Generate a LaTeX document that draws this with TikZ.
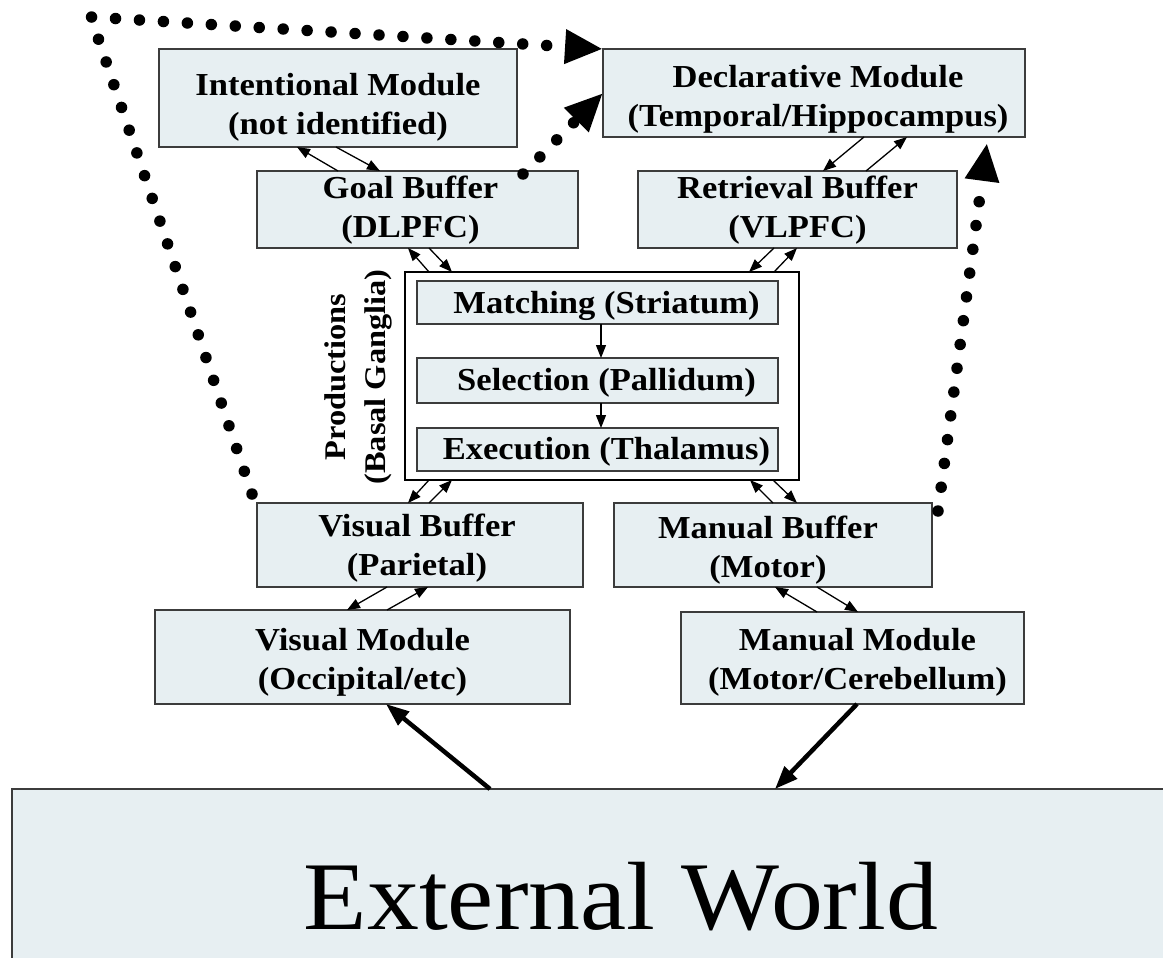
\documentclass[tikz,border=0pt]{standalone}
\usepackage{fontspec}
\setmainfont{Liberation Serif}[FakeStretch=1.08]
\newfontfamily\extfont{Liberation Serif}[FakeStretch=1.07]
\usetikzlibrary{arrows.meta,calc}
\definecolor{boxfill}{RGB}{231,239,242}
\definecolor{boxline}{RGB}{60,60,60}
\begin{document}
\begin{tikzpicture}[x=1pt,y=-1pt,
  box/.style={draw=boxline,fill=boxfill,line width=1.5pt,inner sep=0pt,outer sep=0pt},
  txt/.style={inner sep=0pt,align=center,font=\bfseries\fontsize{32}{39}\selectfont},
  prodbox/.style={draw=black,fill=white,line width=1.5pt,inner sep=0pt,outer sep=0pt},
  tarrow/.style={line width=1.3pt,-{Triangle[length=13pt,width=10pt]}},
  bigarrow/.style={line width=4.5pt,-{Triangle[length=23pt,width=17pt]}},
  dotline/.style={line width=11.5pt,line cap=round,dash pattern=on 0pt off 24pt,
    -{Triangle[length=38pt,width=32pt]}}]
\useasboundingbox (0,0) rectangle (1163,958);
\clip (0,0) rectangle (1163,958);
\fill[white] (0,0) rectangle (1163,958);

% modules and buffers
\node[box,minimum width=358,minimum height=98] (intent) at (338,98) {};
\node[txt] (intent-t) at ([yshift=-9pt]intent.center) {Intentional Module\\(not identified)};
\node[box,minimum width=422,minimum height=88] (decl) at (814,93) {};
\node[txt] (decl-t) at ([yshift=-6pt,xshift=4pt]decl.center) {Declarative Module\\(Temporal/Hippocampus)};
\node[box,minimum width=321,minimum height=77] (goal) at (417.5,209.5) {};
\node[txt] (goal-t) at ([yshift=-1pt,xshift=-7pt]goal.center) {Goal Buffer\\(DLPFC)};
\node[box,minimum width=319,minimum height=77] (retr) at (797.5,209.5) {};
\node[txt] (retr-t) at ([yshift=-1pt]retr.center) {Retrieval Buffer\\(VLPFC)};

% productions
\node[prodbox,minimum width=394,minimum height=208] (prod) at (602,376) {};
\node[box,minimum width=361,minimum height=43] (match) at (597.5,302.5) {};
\node[txt] (match-t) at ([yshift=-3pt,xshift=9pt]match.center) {Matching (Striatum)};
\node[box,minimum width=361,minimum height=45] (sel) at (597.5,380.5) {};
\node[txt] (sel-t) at ([yshift=-2pt,xshift=9pt]sel.center) {Selection (Pallidum)};
\node[box,minimum width=361,minimum height=43] (exec) at (597.5,449.5) {};
\node[txt] (exec-t) at ([yshift=-2pt,xshift=9pt]exec.center) {Execution (Thalamus)};
\node[txt,rotate=90,font=\bfseries\fontsize{30}{40}\selectfont] (plabel) at (358,377) {Productions\\(Basal Ganglia)};

\node[box,minimum width=326,minimum height=84] (vb) at (420,545) {};
\node[txt] (vb-t) at ([yshift=-3pt,xshift=-3pt]vb.center) {Visual Buffer\\(Parietal)};
\node[box,minimum width=318,minimum height=84] (mb) at (773,545) {};
\node[txt] (mb-t) at ([yshift=-5pt,xshift=-5pt]mb.center) {Manual Buffer\\(Motor)};
\node[box,minimum width=415,minimum height=94] (vm) at (362.5,657) {};
\node[txt] (vm-t) at ([yshift=-5pt]vm.center) {Visual Module\\(Occipital/etc)};
\node[box,minimum width=343,minimum height=92] (mm) at (852.5,658) {};
\node[txt] (mm-t) at ([yshift=-4pt,xshift=5pt]mm.center) {Manual Module\\(Motor/Cerebellum)};

\node[box,anchor=north west,minimum width=1218,minimum height=212] (world) at (12,789) {};
\node[inner sep=0pt,font=\extfont\fontsize{97}{100}\selectfont] (world-t) at ([yshift=-2pt]world.center) {External World};

% thin arrows
\draw[tarrow] ($(goal.north west)+(81,0)$) -- ($(intent.south west)+(138,0)$);
\draw[tarrow] ($(intent.south west)+(177,0)$) -- ($(goal.north west)+(123,0)$);
\draw[tarrow] ($(decl.south west)+(261,0)$) -- ($(retr.north west)+(185,0)$);
\draw[tarrow] ($(retr.north west)+(228,0)$) -- ($(decl.south west)+(304,0)$);
\draw[tarrow] ($(prod.north west)+(24,0)$) -- ($(goal.south west)+(151,0)$);
\draw[tarrow] ($(goal.south west)+(172,0)$) -- ($(prod.north west)+(47,0)$);
\draw[tarrow] ($(retr.south west)+(136,0)$) -- ($(prod.north west)+(344,0)$);
\draw[tarrow] ($(prod.north west)+(369,0)$) -- ($(retr.south west)+(159,0)$);
\draw[tarrow] ($(prod.south west)+(24,0)$) -- ($(vb.north west)+(151,0)$);
\draw[tarrow] ($(vb.north west)+(172,0)$) -- ($(prod.south west)+(47,0)$);
\draw[tarrow] ($(mb.north west)+(159,0)$) -- ($(prod.south west)+(345,0)$);
\draw[tarrow] ($(prod.south west)+(368,0)$) -- ($(mb.north west)+(183,0)$);
\draw[tarrow] ($(vb.south west)+(130,0)$) -- ($(vm.north west)+(192,0)$);
\draw[tarrow] ($(vm.north west)+(232,0)$) -- ($(vb.south west)+(171,0)$);
\draw[tarrow] ($(mm.north west)+(136,0)$) -- ($(mb.south west)+(161,0)$);
\draw[tarrow] ($(mb.south west)+(203,0)$) -- ($(mm.north west)+(177,0)$);
\draw[tarrow] ($(match.south west)+(184,0)$) -- ($(sel.north west)+(184,0)$);
\draw[tarrow] ($(sel.south west)+(184,0)$) -- ($(exec.north west)+(184,0)$);

% thick arrows
\draw[bigarrow] ($(world.north west)+(478,0)$) -- ($(vm.south west)+(231,0)$);
\draw[bigarrow] ($(mm.south west)+(176,0)$) -- ($(world.north west)+(763,0)$);

% dotted arrows
\coordinate (dotcorner) at (91,17);
\draw[dotline] ($(vb.north west)+(-5,-9)$) -- (dotcorner) -- (decl.north west);
\draw[dotline] ($(goal.north east)+(-55,3)$) -- (decl.west);
\draw[dotline] ($(mb.north east)+(6,8)$) -- ($(decl.south east)+(-38,6)$);
\end{tikzpicture}
\end{document}
